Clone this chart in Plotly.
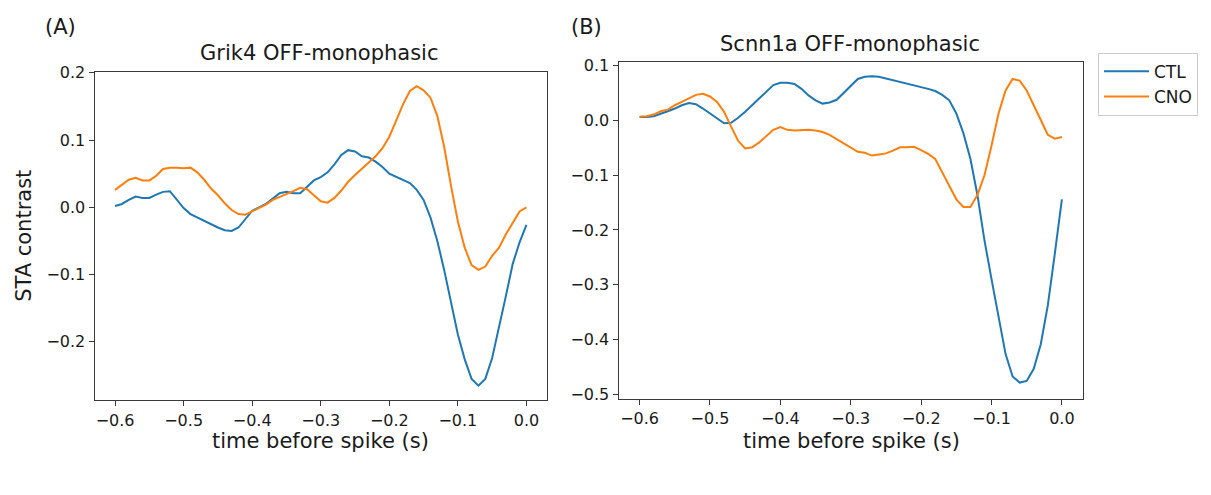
import plotly.graph_objects as go

W, H = 1211, 495

t = [round(-0.60 + 0.01 * i, 2) for i in range(61)]

grik4_ctl = [0.002, 0.005, 0.011, 0.016, 0.014, 0.014, 0.019, 0.023, 0.024, 0.012,
             -0.001, -0.010, -0.015, -0.021, -0.026, -0.030, -0.034, -0.035, -0.030, -0.017,
             -0.005, 0.000, 0.005, 0.013, 0.021, 0.023, 0.021, 0.021, 0.030, 0.040,
             0.045, 0.052, 0.064, 0.078, 0.085, 0.083, 0.076, 0.074, 0.068, 0.060,
             0.050, 0.045, 0.041, 0.036, 0.026, 0.011, -0.015, -0.050, -0.093, -0.142,
             -0.189, -0.226, -0.255, -0.265, -0.255, -0.224, -0.180, -0.132, -0.084, -0.052,
             -0.026]
grik4_cno = [0.026, 0.033, 0.041, 0.044, 0.040, 0.040, 0.047, 0.057, 0.059, 0.059,
             0.058, 0.059, 0.052, 0.041, 0.028, 0.018, 0.006, -0.004, -0.010, -0.011,
             -0.006, 0.000, 0.004, 0.011, 0.015, 0.019, 0.024, 0.029, 0.027, 0.018,
             0.009, 0.007, 0.014, 0.025, 0.038, 0.048, 0.057, 0.066, 0.076, 0.088,
             0.105, 0.129, 0.153, 0.173, 0.180, 0.174, 0.163, 0.136, 0.090, 0.032,
             -0.021, -0.060, -0.086, -0.093, -0.088, -0.072, -0.060, -0.040, -0.022, -0.006,
             0.000]
scnn1a_ctl = [0.0065, 0.0065, 0.008, 0.012, 0.017, 0.022, 0.028, 0.032, 0.030, 0.022,
              0.013, 0.003, -0.005, -0.004, 0.005, 0.016, 0.028, 0.040, 0.053, 0.065,
              0.069, 0.069, 0.067, 0.058, 0.046, 0.037, 0.031, 0.033, 0.038, 0.051,
              0.064, 0.076, 0.080, 0.081, 0.080, 0.077, 0.074, 0.070, 0.067, 0.064,
              0.061, 0.058, 0.054, 0.047, 0.037, 0.013, -0.023, -0.070, -0.136, -0.219,
              -0.290, -0.361, -0.427, -0.468, -0.479, -0.476, -0.454, -0.409, -0.338, -0.243,
              -0.144]
scnn1a_cno = [0.007, 0.008, 0.011, 0.017, 0.020, 0.028, 0.034, 0.041, 0.047, 0.049,
              0.044, 0.034, 0.016, -0.011, -0.037, -0.051, -0.049, -0.040, -0.029, -0.017,
              -0.012, -0.017, -0.018, -0.017, -0.017, -0.018, -0.021, -0.026, -0.034, -0.042,
              -0.050, -0.057, -0.059, -0.064, -0.062, -0.060, -0.055, -0.049, -0.049, -0.048,
              -0.054, -0.061, -0.070, -0.094, -0.118, -0.144, -0.158, -0.158, -0.136, -0.100,
              -0.046, 0.013, 0.055, 0.076, 0.073, 0.055, 0.028, 0.001, -0.026, -0.033,
              -0.030]

x_tickvals = [-0.6, -0.5, -0.4, -0.3, -0.2, -0.1, 0.0]
x_ticktext = ["−0.6", "−0.5", "−0.4", "−0.3", "−0.2", "−0.1", "0.0"]
yA_tickvals = [0.2, 0.1, 0.0, -0.1, -0.2]
yA_ticktext = ["0.2", "0.1", "0.0", "−0.1", "−0.2"]
yB_tickvals = [0.1, 0.0, -0.1, -0.2, -0.3, -0.4, -0.5]
yB_ticktext = ["0.1", "0.0", "−0.1", "−0.2", "−0.3", "−0.4", "−0.5"]

BLUE = "#1f77b4"
ORANGE = "#ff7f0e"
FONT = "DejaVu Sans"
TXT = "#1a1a1a"
SPINE = "#3a3a3a"


def px(x):
    return x / W


def py(y):
    return 1 - y / H


fig = go.Figure()
fig.add_trace(go.Scatter(x=t, y=grik4_ctl, mode="lines", name="CTL",
                         line=dict(color=BLUE, width=2), xaxis="x", yaxis="y"))
fig.add_trace(go.Scatter(x=t, y=grik4_cno, mode="lines", name="CNO",
                         line=dict(color=ORANGE, width=2), xaxis="x", yaxis="y"))
fig.add_trace(go.Scatter(x=t, y=scnn1a_ctl, mode="lines", name="CTL", showlegend=False,
                         line=dict(color=BLUE, width=2), xaxis="x2", yaxis="y2"))
fig.add_trace(go.Scatter(x=t, y=scnn1a_cno, mode="lines", name="CNO", showlegend=False,
                         line=dict(color=ORANGE, width=2), xaxis="x2", yaxis="y2"))

axis_common = dict(showgrid=False, zeroline=False, showline=True, mirror=True,
                   linecolor=SPINE, linewidth=1, ticks="outside", ticklen=5,
                   tickcolor=SPINE, tickwidth=1,
                   tickfont=dict(family=FONT, size=16, color=TXT))

fig.update_layout(
    width=W, height=H,
    margin=dict(l=0, r=0, t=0, b=0),
    paper_bgcolor="white", plot_bgcolor="white",
    font=dict(family=FONT, color=TXT),
    xaxis=dict(domain=[px(94.5), px(547)], range=[-0.63, 0.03],
               tickvals=x_tickvals, ticktext=x_ticktext, anchor="y", **axis_common),
    yaxis=dict(domain=[py(403), py(65.5)], range=[-0.287, 0.2015],
               tickvals=yA_tickvals, ticktext=yA_ticktext, anchor="x", **axis_common),
    xaxis2=dict(domain=[px(618.5), px(1083)], range=[-0.63, 0.03],
                tickvals=x_tickvals, ticktext=x_ticktext, anchor="y2", **axis_common),
    yaxis2=dict(domain=[py(401.5), py(55.5)], range=[-0.509, 0.107],
                tickvals=yB_tickvals, ticktext=yB_ticktext, anchor="x2", **axis_common),
    showlegend=True,
    legend=dict(x=px(1098), y=py(46), xanchor="left", yanchor="top",
                bordercolor="#cccccc", borderwidth=1, bgcolor="white",
                itemwidth=45, tracegroupgap=0,
                font=dict(family=FONT, size=17, color=TXT)),
)

annots = [
    dict(text="(A)", x=px(61), y=py(19), size=21),
    dict(text="(B)", x=px(586), y=py(19), size=21),
    dict(text="Grik4 OFF-monophasic", x=px(319), y=py(46), size=21),
    dict(text="Scnn1a OFF-monophasic", x=px(850), y=py(37), size=21),
    dict(text="time before spike (s)", x=px(320), y=py(445), size=21),
    dict(text="time before spike (s)", x=px(851), y=py(445), size=21),
]
for a in annots:
    fig.add_annotation(text=a["text"], x=a["x"], y=a["y"], xref="paper", yref="paper",
                       xanchor="center", yanchor="middle", showarrow=False,
                       font=dict(family=FONT, size=a["size"], color=TXT))
fig.add_annotation(text="STA contrast", x=px(24), y=py(234), xref="paper", yref="paper",
                   xanchor="center", yanchor="middle", showarrow=False, textangle=-90,
                   font=dict(family=FONT, size=21, color=TXT))

fig.write_html("out.html", post_script="document.body.style.margin='0px';",
               config={"displayModeBar": False})
